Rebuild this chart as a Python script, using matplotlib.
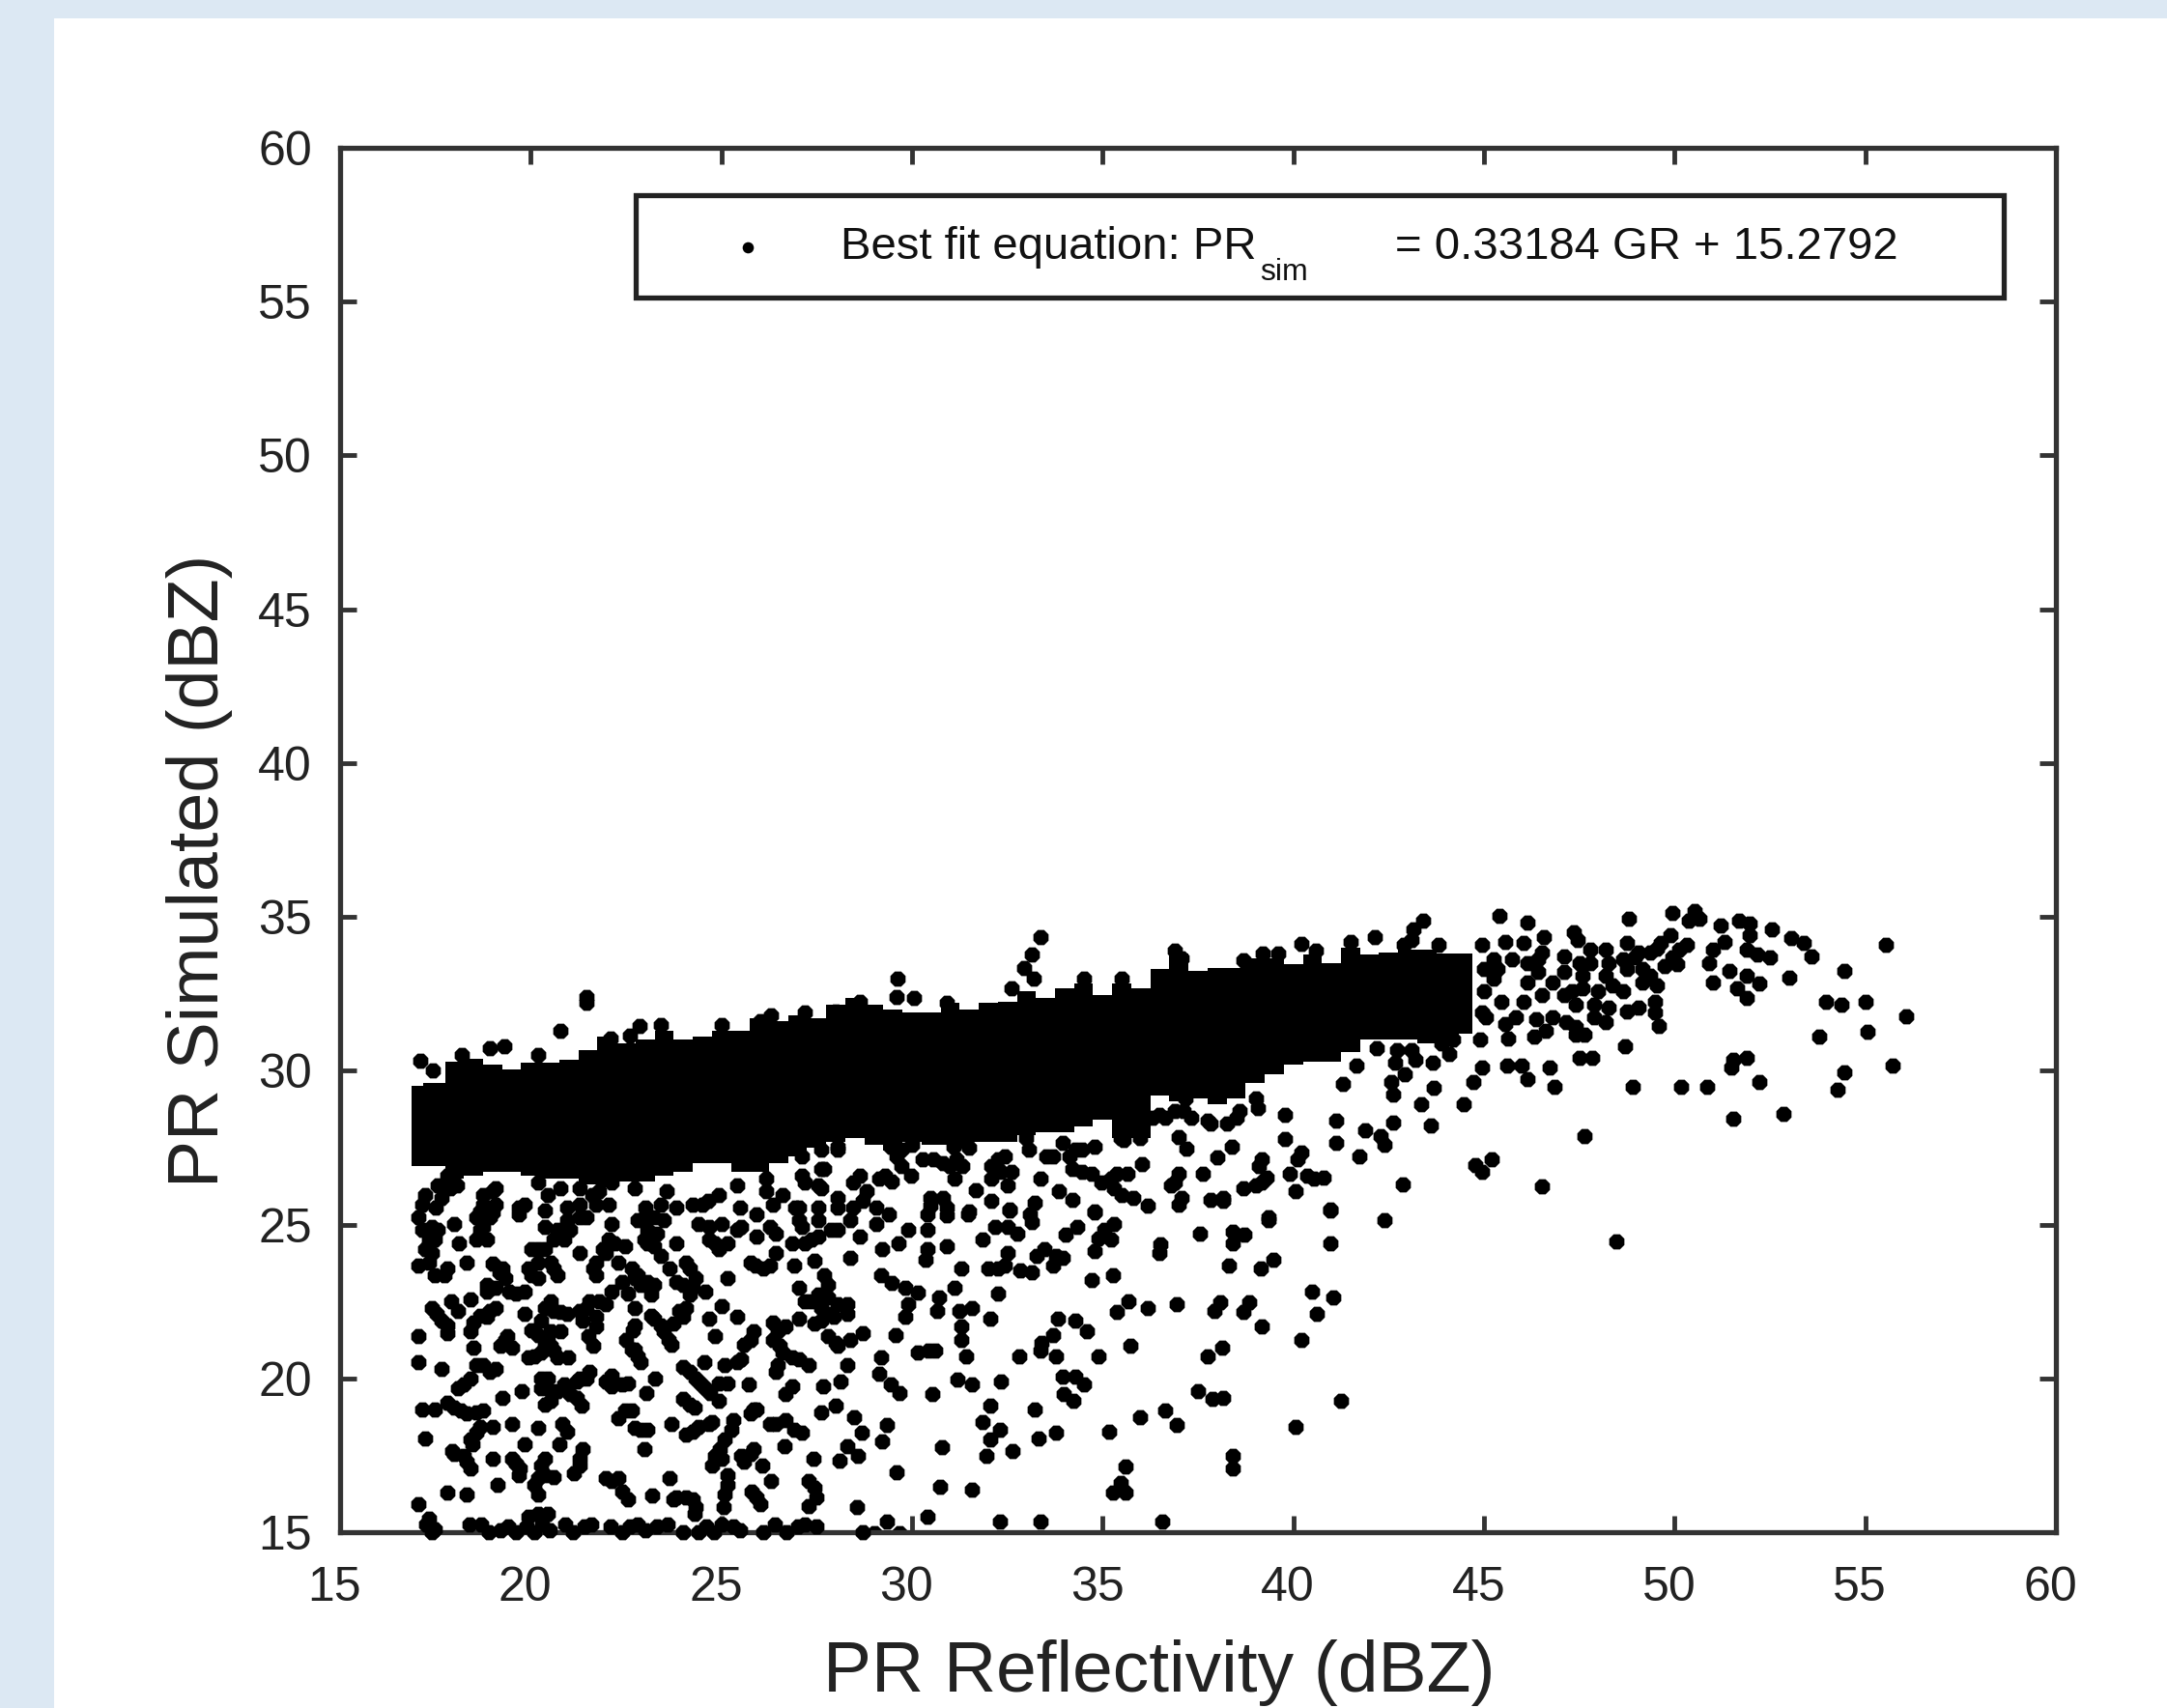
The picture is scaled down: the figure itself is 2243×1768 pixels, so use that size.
import matplotlib
matplotlib.use("Agg")
import matplotlib.pyplot as plt
from matplotlib.patches import Rectangle
from matplotlib.transforms import ScaledTranslation

tick_values = [15, 20, 25, 30, 35, 40, 45, 50, 55, 60]
x_label = "PR Reflectivity (dBZ)"
y_label = "PR Simulated (dBZ)"
legend_main = "Best fit equation: PR"
legend_sub = "sim"
legend_rest = "= 0.33184 GR + 15.2792"

band_x = [16.87, 17.5, 18, 18.5, 19, 19.5, 20, 20.5, 21, 21.5, 22, 22.5, 23, 23.5, 24, 24.5, 25, 25.5, 26, 26.5,
          27, 27.5, 28, 28.5, 29, 29.5, 30, 30.5, 31, 31.5, 32, 32.5, 33, 33.5, 34, 34.5, 35, 35.5, 36, 36.5,
          37, 37.5, 38, 38.5, 39, 39.5, 40, 40.5, 41, 41.5, 42, 42.5, 43, 43.5, 44, 44.7]
band_top = [29.5, 29.6, 30.3, 30.4, 30.2, 30.05, 30.26, 30.26, 30.36, 30.68, 31.1, 30.9, 31, 31.3, 31, 31.1, 31.3, 31.3, 31.7, 31.6,
            31.8, 31.7, 32.15, 32.35, 32.15, 32, 31.9, 31.9, 32.2, 32, 32.2, 32.25, 32.6, 32.35, 32.67, 32.83, 32.46, 32.83, 32.67, 33.3,
            33.8, 33.24, 33.35, 33.35, 33.66, 33.66, 33.45, 33.77, 33.5, 34.0, 33.77, 33.83, 33.93, 33.93, 33.8, 33.8]
band_bottom = [26.9, 26.9, 26.5, 26.6, 26.7, 26.7, 26.6, 26.5, 26.5, 26.3, 26.2, 26.4, 26.4, 26.6, 26.7, 27, 27, 26.7, 26.7, 27,
               27.2, 27.5, 27.7, 27.8, 27.6, 27.4, 27.7, 27.6, 27.6, 27.7, 27.7, 27.7, 27.9, 28, 28, 28.2, 28.4, 27.8, 27.8, 29.2,
               29, 29.1, 28.9, 29.1, 29.6, 29.9, 30.2, 30.3, 30.3, 30.6, 31, 31, 31, 30.9, 31, 31.2]

band_edge = [(18.2,30.5),(20.2,30.5),(23.4,31.5),(25.0,31.5),(26.3,31.8),(34.5,33.0),(35.5,33.0),(36.9,33.9),(38.7,33.6),(39.2,33.8),
    (39.6,33.8),(40.6,33.9),(41.5,34.2),(42.9,34.1),(43.8,34.1),(30.0,27.6),(31.5,27.5),(33.0,27.8),(45.0,33.3),(45.0,32.6),(44.95,31.9)]

above_band = [(21.45,32.2),(21.45,32.4),(20.78,31.29),(19.3,30.78),(18.92,30.73),(17.1,30.31),(17.44,30.0),(22.85,31.46),(22.6,31.15),
    (22.09,31.05),(26.01,31.62),(27.2,31.88),(28.0,31.93),(28.63,32.25),(33.36,34.34),(33.15,33.77),(32.93,33.35),(33.19,32.98),
    (32.6,32.67),(29.62,32.98),(29.6,32.41),(30.06,32.35),(30.91,32.2),(40.2,34.13),(37.07,33.66)]

under_band = [(17.15,25.65),(17.5,25.55),(17.9,26.18),(17.82,26.6),(18.75,25.65),(19.0,26.07),(19.85,25.65),(20.44,25.96),(20.95,25.55),
    (21.62,25.96),(22.04,25.65),(23.0,25.55),(24.24,25.65),(24.66,25.76),(25.5,25.55),(26.35,25.65),(27.03,25.55),(27.2,26.38),
    (27.62,26.18),(28.04,25.55),(28.72,25.76),(28.46,26.38),(27.62,26.8),(28.04,27.54),(29.3,26.6),(29.6,27.22),(29.47,26.39),
    (29.98,26.6),(29.05,25.55),(30.57,27.12),(31.0,26.91),(31.33,26.91),(31.12,26.49),(31.08,27.54),(32.09,26.91),(32.43,27.22),
    (32.6,26.7),(31.67,26.12),(32.51,26.28),(32.09,25.76),(32.55,25.5),(33.36,26.49),(33.23,25.7),(33.06,27.43),(30.82,25.86),
    (30.48,25.6),(31.5,25.44),(33.69,27.22),(33.95,27.64),(34.29,27.43),(34.79,27.54),(34.2,26.8),(34.71,26.65),(34.96,26.38),
    (35.38,26.65),(36.02,26.96),(35.3,26.18),(35.81,25.86),(36.19,25.6),(33.86,26.07),(34.2,25.81),(34.79,25.44),(35.47,27.8),
    (35.97,27.8),(36.99,27.85),(37.2,27.48),(36.99,26.65),(36.78,26.28),(37.07,25.86),(37.62,26.65),(38.0,27.17),(38.38,27.54),
    (37.83,25.81),(38.17,25.76),(39.1,26.91),(39.31,26.54),(38.68,26.18),(39.01,26.28),(39.78,27.77),(40.2,27.33),(39.9,26.65),
    (40.37,26.59),(40.79,26.54),(40.07,26.07),(40.96,25.5),(39.35,25.23),(41.13,27.64),(39.78,28.58),(41.13,28.37),(39.06,28.79),
    (41.3,29.58),(36.31,28.48),(36.65,28.48),(38.26,28.27),(38.51,28.48),(37.75,28.37),(37.16,29.11),(37.11,28.69)]

under_band_more = [(17.23,25.96),(17.57,26.28),(18.07,26.28),(17.65,25.86),(18.75,25.96),(19.09,26.18),(18.67,25.44),(19.09,25.65),
    (19.68,25.55),(20.19,26.38),(20.78,26.18),(21.28,26.18),(21.28,25.65),(21.79,26.07),(22.13,26.38),(21.71,25.65),(22.72,26.18),
    (23.56,26.07),(23.4,25.65),(23.82,25.55),(24.92,25.96),(24.5,25.65),(25.42,26.28),(26.18,26.49),(26.18,26.07),(26.6,25.96),
    (27.11,26.6),(27.53,26.28),(26.94,25.55),(27.53,25.55),(28.04,25.86),(28.46,25.55),(28.04,27.43),(28.63,26.6),(28.8,26.07),
    (27.7,26.8),(27.11,27.22),(27.62,27.43),(29.13,26.49),(29.72,26.91),(29.72,27.43),(29.43,27.54),(30.27,27.12),(30.82,27.01),
    (31.16,27.12),(31.41,27.64),(32.26,27.12),(32.34,26.7),(32.09,26.49),(30.48,25.86),(30.91,25.55),(33.53,27.22),(34.12,27.22),
    (34.45,27.43),(34.45,26.7),(35.22,26.49),(35.64,26.65),(35.51,25.97),(35.55,27.75),(36.9,26.38),(36.99,25.65),(38.17,25.86),
    (39.18,27.12),(39.18,26.38),(40.11,27.12),(40.53,26.49),(36.48,28.58),(36.9,28.69),(37.2,29.32),(37.33,28.48),(37.83,28.27),
    (38.59,28.69),(39.02,29.11)]

lower_left = [(17.06,25.24),(17.4,24.92),(17.15,24.82),(17.49,24.5),(17.4,24.08),(17.06,23.67),(17.32,23.77),(17.74,23.35),(17.82,23.56),
    (18.0,25.03),(18.12,24.4),(18.33,23.77),(18.58,25.24),(18.92,25.24),(18.67,24.82),(18.84,24.5),(19.0,23.72),(19.26,23.56),
    (19.34,23.25),(18.84,23.04),(19.09,22.93),(19.6,22.77),(19.68,25.34),(20.02,24.19),(20.36,24.19),(19.94,23.56),(20.19,23.77),
    (20.53,23.77),(20.7,23.35),(20.19,23.25),(20.36,24.92),(20.7,24.82),(20.95,25.13),(21.29,25.24),(20.36,25.45),(20.87,24.5),
    (21.29,24.08),(22.13,25.03),(22.05,24.5),(21.96,24.08),(21.71,23.77),(21.71,23.35),(22.47,24.29),(22.98,25.24),(23.23,25.24),
    (23.48,25.13),(23.06,24.82),(23.31,24.71),(23.23,24.29),(23.4,23.98),(22.64,23.56),(22.39,23.14),(22.72,23.25),(23.06,23.14),
    (23.23,23.04),(22.55,22.77),(23.15,22.72),(23.82,24.4),(24.16,23.56),(23.82,23.14),(24.33,23.25),(24.58,22.83),(24.16,22.72),
    (24.07,22.3),(23.99,22.0),(23.74,21.78),(24.41,25.03),(24.67,24.5),(24.92,24.19),(25.17,24.4),(25.17,23.25),(25.0,25.03),
    (25.42,24.82),(25.93,24.61),(26.44,24.71),(25.76,23.77),(26.1,23.56),(26.44,24.08),(26.9,23.66),(27.45,23.82),(28.38,23.93),
    (27.12,24.92),(27.54,24.61),(27.2,24.4),(27.87,24.82),(28.38,25.13),(27.7,23.35),(27.79,23.04),(27.03,22.93),(27.54,22.72),
    (27.2,22.51),(27.62,22.3),(28.04,22.41),(28.3,22.41),(27.96,21.99),(27.45,21.78),(17.91,22.51),(17.4,22.3),(18.08,22.2),
    (17.65,21.88),(17.82,21.47),(18.42,22.57),(19.09,22.3),(18.84,21.99),(18.5,21.83),(18.42,21.52),(17.06,21.36),(18.5,21.0),
    (19.34,21.26),(19.51,21.0),(19.85,22.09),(20.36,22.3),(20.78,22.15),(20.27,21.88),(20.02,21.57),(20.53,21.52),(20.78,21.52),
    (20.36,21.15),(20.53,21.05),(19.94,20.68),(20.27,20.84),(20.7,20.68),(20.99,20.68),(21.46,22.3),(21.79,22.51),(21.37,21.88),
    (21.71,21.68),(21.5,21.36),(21.63,21.05),(22.72,22.3),(22.72,21.73),(22.51,21.26),(22.72,20.94),(22.89,20.52),(23.23,21.94),
    (23.48,21.52),(23.69,21.1),(24.67,21.94),(24.83,21.36),(25.0,22.36),(25.42,21.99),(25.85,21.52),(25.6,21.1),(25.42,20.52),
    (25.09,20.42),(26.35,21.83),(26.69,21.68),(27.03,21.94),(26.35,21.26),(26.61,20.84),(26.44,20.21),(26.86,20.68),(27.28,20.42),
    (27.79,21.36),(28.04,21.05),(28.3,20.42),(28.38,21.26),(28.72,21.47),(17.06,20.52),(17.65,20.31),(18.58,20.42),(19.09,20.31),
    (18.25,19.79),(20.27,20.0),(20.53,19.58),(20.36,19.16),(19.77,19.58),(19.26,19.37),(20.87,19.79),(21.2,19.9),(21.54,20.21),
    (21.03,19.48),(21.33,19.11),(22.13,20.1),(22.13,19.74),(22.55,19.84),(23.27,20.0),(23.02,19.53),(23.99,20.37),(24.33,20.0),
    (24.54,20.52),(24.58,19.69),(24.92,19.84),(25.17,19.84),(24.92,19.27),(23.99,19.32),(24.29,19.06),(25.72,19.79),(26.69,19.48),
    (26.86,19.74),(27.66,19.74),(28.13,19.9),(25.85,19.0),(17.15,19.0),(17.49,19.0),(17.82,19.21),(18.16,18.95),(18.58,18.9),
    (27.62,18.9),(28.0,19.11),(28.47,18.74),(28.68,18.22),(26.27,18.53),(26.69,18.64),(27.11,18.22),(26.65,17.8),(22.3,18.69),
    (22.64,18.95),(22.72,18.38),(23.06,18.33),(23.69,18.53),(24.07,18.17),(24.41,18.43),(24.75,18.59),(25.3,18.64),(25.09,18.01),
    (24.83,17.49),(24.75,17.17),(22.97,17.7),(19.51,18.53),(19.01,18.43),(18.58,18.22),(18.46,17.85),(20.19,18.38),(19.85,17.85),
    (20.82,18.53),(20.95,18.27),(20.74,17.85),(17.23,18.06),(17.99,17.54),(18.25,17.49),(18.42,17.07),(19.01,17.4),(19.6,17.22),
    (20.36,17.38),(21.37,17.7),(21.29,17.17),(21.12,16.91),(19.68,16.86),(20.19,16.75),(20.61,16.8),(20.19,16.23),(21.96,16.75),
    (22.3,16.75),(22.39,16.33),(22.55,16.07),(25.76,17.54),(25.6,17.28),(25.17,16.86),(26.06,17.17),(26.31,16.65),(28.3,17.8),
    (28.09,17.33),(28.59,17.49),(27.41,17.38),(25.09,16.23),(25.05,15.81),(25.8,16.33),(26.02,15.92),(27.28,16.65),(27.49,16.12),
    (27.28,15.86),(28.55,15.81),(23.65,16.75),(23.19,16.18),(23.74,16.07),(24.24,16.07),(24.29,15.6),(19.13,16.54),(17.82,16.28),
    (18.33,16.23),(17.06,15.92)]

lower_left_more = [(17.49,23.35),(17.23,24.19),(17.57,24.82),(17.32,24.5),(18.58,24.5),(18.75,24.92),(19.0,25.39),(19.17,23.46),(18.84,22.83),
    (19.43,22.83),(19.85,22.83),(20.02,23.35),(20.19,24.19),(20.61,23.56),(20.61,24.5),(21.03,24.82),(21.46,25.24),(21.88,24.19),
    (21.63,23.56),(22.2,24.4),(22.3,23.77),(22.8,23.35),(22.89,23.04),(22.13,22.83),(22.97,24.5),(23.06,24.4),(22.8,25.13),(23.65,23.56),
    (24.07,23.77),(23.99,23.04),(24.24,22.93),(23.9,22.2),(24.67,24.92),(24.83,24.4),(25.93,25.34),(25.51,24.92),(26.27,24.92),
    (25.89,23.66),(26.27,23.66),(26.86,24.4),(27.03,25.13),(27.37,24.5),(28.04,24.82),(28.63,24.61),(27.54,25.13),(27.79,22.62),
    (27.37,22.51),(27.87,22.1),(28.3,22.1),(27.62,21.88),(21.54,22.51),(21.71,21.99),(21.29,22.2),(21.96,22.41),(20.53,22.51),
    (20.61,22.2),(20.95,22.09),(20.44,21.36),(20.19,21.41),(20.61,20.89),(20.1,20.73),(17.53,22.09),(17.82,21.73),(18.67,22.04),
    (18.92,22.2),(19.2,21.05),(19.38,21.36),(22.64,20.94),(22.68,21.57),(22.81,20.73),(23.15,22.04),(23.4,21.73),(23.61,21.26),
    (25.76,21.26),(25.51,20.63),(26.48,21.52),(26.52,21.05),(27.03,20.63),(26.48,20.42),(28.0,21.15),(20.44,20.0),(20.7,19.58),
    (20.53,19.27),(20.27,19.69),(21.29,20.0),(21.46,20.0),(20.95,19.69),(21.2,19.37),(22.39,19.79),(21.96,19.9),(24.16,20.21),
    (24.45,19.84),(24.71,19.53),(24.16,19.16),(18.42,20.0),(18.08,19.69),(18.75,20.42),(18.92,20.21),(18.33,18.85),(18.75,18.95),
    (17.99,19.06),(22.47,18.95),(22.89,18.33),(24.24,18.27),(24.67,18.53),(25.26,18.32),(24.96,17.7),(25.85,17.7),(25.51,17.49),
    (26.44,18.53),(26.9,18.32),(25.76,18.85),(25.93,19.0),(17.95,17.64),(18.33,17.28),(18.67,18.43),(18.42,18.01),(19.51,17.38),
    (19.72,17.07),(20.27,17.17),(20.1,16.55),(20.36,16.86),(21.29,17.38),(22.13,16.65),(25.0,17.38),(25.17,16.55),(25.93,16.13),
    (27.45,16.44),(23.82,16.13),(24.07,16.13),(24.33,15.81)]

bottom_row_x = [17.25, 17.4, 17.32, 17.49, 18.4, 18.7, 18.9, 19.2, 19.4, 19.6, 19.93, 19.9, 20.1, 20.19, 20.3, 20.44, 20.5, 20.9, 21.1, 21.4, 21.6, 22.1, 22.4, 22.6,
                22.8, 23.0, 23.3, 23.6, 24.0, 24.4, 24.6, 24.8, 25.0, 25.3, 25.5, 26.1, 26.4, 26.7, 27.0, 27.2, 27.5, 28.7]
bottom_row_y = [15.25, 15.0, 15.45, 15.08, 15.25, 15.25, 15.0, 15.05, 15.2, 15.0, 15.5, 15.2, 15.0, 15.6, 15.25, 15.6, 15.05, 15.25, 15.0, 15.2, 15.25, 15.2, 15.0,
                15.2, 15.25, 15.05, 15.2, 15.25, 15.0, 15.0, 15.2, 15.0, 15.25, 15.2, 15.05, 15.0, 15.25, 15.0, 15.2, 15.25, 15.2, 15.0]

lower_mid = [(29.05,25.03),(29.39,25.34),(29.89,24.82),(29.64,24.4),(29.22,24.19),(30.4,25.34),(30.4,24.82),(30.4,24.19),(30.36,23.87),
    (30.91,24.29),(30.91,25.29),(31.46,25.34),(32.55,25.45),(33.1,25.34),(33.15,25.08),(32.17,24.92),(32.51,24.92),(32.77,24.71),
    (31.84,24.5),(34.03,24.66),(34.33,24.92),(34.79,25.39),(35.3,25.03),(35.05,24.82),(34.88,24.56),(35.21,24.5),(34.79,24.14),
    (32.51,24.08),(32.26,23.56),(32.0,23.56),(32.43,23.66),(32.85,23.51),(33.15,23.46),(33.27,23.98),(33.48,24.19),(33.78,23.98),
    (33.95,23.93),(33.69,23.66),(34.71,23.19),(35.26,23.35),(36.48,24.08),(36.52,24.35),(37.54,24.71),(38.42,24.76),(38.72,24.66),
    (38.42,24.4),(39.35,25.13),(40.96,25.45),(40.96,24.4),(38.3,23.66),(39.14,23.56),(39.48,23.87),(29.18,23.35),(29.47,23.09),
    (29.81,22.93),(30.15,22.78),(29.89,22.41),(29.81,21.99),(31.29,23.56),(31.12,22.93),(30.7,22.62),(30.65,22.2),(32.26,22.77),
    (31.58,22.3),(31.24,22.2),(31.29,21.68),(31.29,21.26),(31.41,20.73),(32.05,21.94),(29.56,21.41),(30.44,20.89),(30.15,20.84),
    (30.61,20.89),(33.82,21.94),(34.29,21.88),(34.58,21.52),(33.69,21.41),(33.4,21.15),(33.36,20.89),(33.78,20.73),(32.81,20.73),
    (34.88,20.73),(35.72,21.05),(35.38,22.15),(35.68,22.51),(36.19,22.3),(36.95,22.41),(37.92,22.2),(38.09,22.46),(38.68,22.15),
    (38.85,22.46),(39.18,21.68),(40.5,22.83),(41.04,22.62),(40.62,22.09),(40.2,21.26),(37.75,20.73),(38.13,20.99),(29.18,20.68),
    (29.13,20.16),(29.43,19.79),(29.68,19.53),(30.53,19.48),(31.2,19.95),(31.58,19.79),(32.34,19.9),(33.95,20.05),(34.29,20.05),
    (34.5,19.79),(33.99,19.48),(34.24,19.27),(32.05,19.11),(33.23,19.0),(31.84,18.59),(29.34,18.48),(29.22,17.96),(32.3,18.32),
    (32.05,18.01),(31.96,17.49),(32.64,17.64),(33.31,18.06),(33.78,18.22),(30.78,17.75),(35.17,18.27),(35.97,18.74),(36.65,18.95),
    (36.95,18.48),(37.49,19.58),(37.87,19.32),(38.17,19.37),(41.25,19.27),(40.07,18.43),(38.42,17.49),(38.42,17.07),(29.6,16.96),
    (30.74,16.49),(31.58,16.39),(35.59,17.12),(35.47,16.6),(35.26,16.28),(35.59,16.28),(30.4,15.5),(32.3,15.34),(33.36,15.34),
    (36.57,15.34),(29.34,15.34),(29.0,14.98),(29.68,14.98)]

right_side = [(42.13,34.35),(43.4,34.87),(43.16,34.61),(43.11,34.24),(45.4,35.03),(46.13,34.82),(48.81,34.93),(49.93,35.13),(50.52,35.19),
    (50.37,34.87),(50.66,34.93),(51.2,34.72),(51.69,34.87),(51.98,34.77),(52.56,34.61),(53.05,34.3),(53.39,34.14),(53.59,33.72),
    (55.54,34.09),(54.46,33.25),(53.0,33.04),(51.98,34.4),(51.88,33.93),(52.17,33.77),(52.51,33.67),(51.3,34.19),(51.0,33.93),
    (50.91,33.51),(51.44,33.25),(51.0,32.88),(51.88,33.09),(52.22,32.83),(51.64,32.67),(51.88,32.36),(49.88,34.4),(50.32,34.09),
    (49.54,33.98),(49.93,33.67),(50.08,33.46),(49.54,32.78),(53.98,32.25),(54.37,32.15),(55.0,32.25),(56.07,31.78),(55.05,31.26),
    (53.78,31.1),(55.73,30.16),(54.46,29.95),(54.27,29.38),(51.54,30.37),(51.88,30.42),(51.49,30.11),(52.22,29.64),(52.86,28.59),
    (51.54,28.43),(50.18,29.48),(50.86,29.48),(48.91,29.48),(48.71,30.79),(47.5,30.42),(47.84,30.42),(47.64,27.86),(46.52,26.23),
    (45.2,27.12),(44.77,26.92),(44.96,26.7),(42.87,26.29),(42.38,25.13),(48.47,24.45),(43.6,28.22),(44.47,28.9),(43.35,28.9),
    (43.69,29.43),(42.62,28.33),(42.28,27.86),(41.89,28.07),(42.38,27.6),(41.74,27.23),(46.86,29.48),(46.13,29.74),(45.98,30.16),
    (46.72,30.11),(45.6,30.16),(44.96,30.11),(44.72,29.64),(43.65,30.27),(44.08,30.53),(43.21,30.37),(42.62,29.22),(42.57,29.64),
    (42.91,29.9),(42.67,30.27),(41.65,30.16),(42.18,30.74),(44.96,34.09),(45.55,34.19),(46.03,34.14),(46.57,34.35),(47.35,34.51),
    (47.45,34.24),(48.76,34.14),(48.18,33.93),(47.79,33.93),(47.1,33.72),(46.52,33.83),(47.5,33.51),(48.96,33.67),(49.15,33.3),
    (48.27,33.51),(48.76,33.3),(48.18,33.09),(47.59,33.09),(47.1,33.2),(46.42,33.2),(46.81,32.88),(46.52,32.45),(47.3,32.57),
    (47.4,32.15),(47.98,32.57),(47.89,32.15),(48.66,32.57),(49.35,33.09),(48.27,32.05),(48.76,31.94),(49.05,32.05),(49.49,32.25),
    (49.49,31.89),(49.59,31.47),(47.89,31.73),(48.18,31.57),(46.81,31.73),(47.15,31.57),(46.37,31.68),(46.33,31.1),(47.4,31.16),
    (47.64,31.16),(46.62,31.31),(45.64,31.05),(44.91,31.0),(45.25,33.62),(45.74,33.62),(46.13,33.51),(45.25,32.99),(46.13,32.88),
    (45.45,32.25),(46.03,32.25),(45.06,31.73),(45.55,31.52),(45.84,31.73),(45.35,33.3),(46.42,33.62),(47.79,33.51),(48.66,33.62),
    (47.59,32.67),(47.1,32.46),(48.37,32.78),(49.15,32.88),(49.74,33.41),(50.13,33.93),(49.35,33.83),(49.05,33.83),(49.64,34.14),
    (42.72,30.68),(43.11,30.68),(47.4,31.42),(43.89,30.89),(44.18,31.0)]

px = 1 / 100
fig = plt.figure(figsize=(2243 * px, 1768 * px), dpi=100, facecolor="#dce8f3")
fig.add_artist(Rectangle((56 / 2243, 0), 1 - 56 / 2243, 1 - 19 / 1768, transform=fig.transFigure,
                         facecolor="white", edgecolor="none", zorder=0))
ax = fig.add_axes([352 / 2243, 1 - 1586 / 1768, (2128 - 352) / 2243, (1586 - 153) / 1768])
ax.set_facecolor("white")
plt.rcParams["font.family"] = ["Liberation Sans", "DejaVu Sans"]

ax.fill_between(band_x, band_bottom, band_top, step="mid", color="black", linewidth=0, zorder=3)
for pts in (band_edge, above_band, under_band, under_band_more, lower_left, lower_left_more, lower_mid, right_side):
    xs, ys = zip(*pts)
    ax.scatter(xs, ys, s=150, c="black", marker="8", linewidths=0, zorder=4)
ax.scatter(bottom_row_x, bottom_row_y, s=150, c="black", marker="8", linewidths=0, zorder=6, clip_on=False)

ax.set_xlim(15, 60)
ax.set_ylim(15, 60)
grey = "#333333"
for s in ax.spines.values():
    s.set_linewidth(3.8)
    s.set_color(grey)
    s.set_zorder(5)
ax.set_xticks(tick_values)
ax.set_yticks(tick_values)
ax.tick_params(axis="both", which="major", direction="in", top=True, right=True, length=12, width=3.5,
               color=grey, labelcolor="#222222", labelsize=36)
ax.tick_params(axis="x", pad=25)
ax.tick_params(axis="y", pad=21)
shift = ScaledTranslation(-4 / 72, 0, fig.dpi_scale_trans)
for lab in ax.get_xticklabels():
    lab.set_fontfamily("Liberation Sans")
    lab.set_transform(lab.get_transform() + shift)
for lab in ax.get_yticklabels():
    lab.set_fontfamily("Liberation Sans")
ax.set_xlabel(x_label, fontsize=54, family="Liberation Sans", color="#222222", labelpad=22, x=0.4775)
ax.set_ylabel(y_label, fontsize=53, family="Liberation Sans", color="#222222", labelpad=19, y=0.478)

ax.add_patch(Rectangle((22.75, 55.13), 58.63 - 22.75, 58.46 - 55.13, facecolor="white", edgecolor="#222222",
                       linewidth=3.8, zorder=7))
ax.scatter([25.69], [56.76], s=70, c="black", linewidths=0, zorder=8)
ax.text(28.12, 56.77, legend_main, fontsize=34, family="Liberation Sans", va="center", ha="left", color="#111111", zorder=8)
ax.text(39.12, 55.95, legend_sub, fontsize=23, family="Liberation Sans", va="center", ha="left", color="#111111", zorder=8)
ax.text(42.67, 56.77, legend_rest, fontsize=34, family="Liberation Sans", va="center", ha="left", color="#111111", zorder=8)

fig.savefig("out.png", dpi=100, facecolor=fig.get_facecolor())
